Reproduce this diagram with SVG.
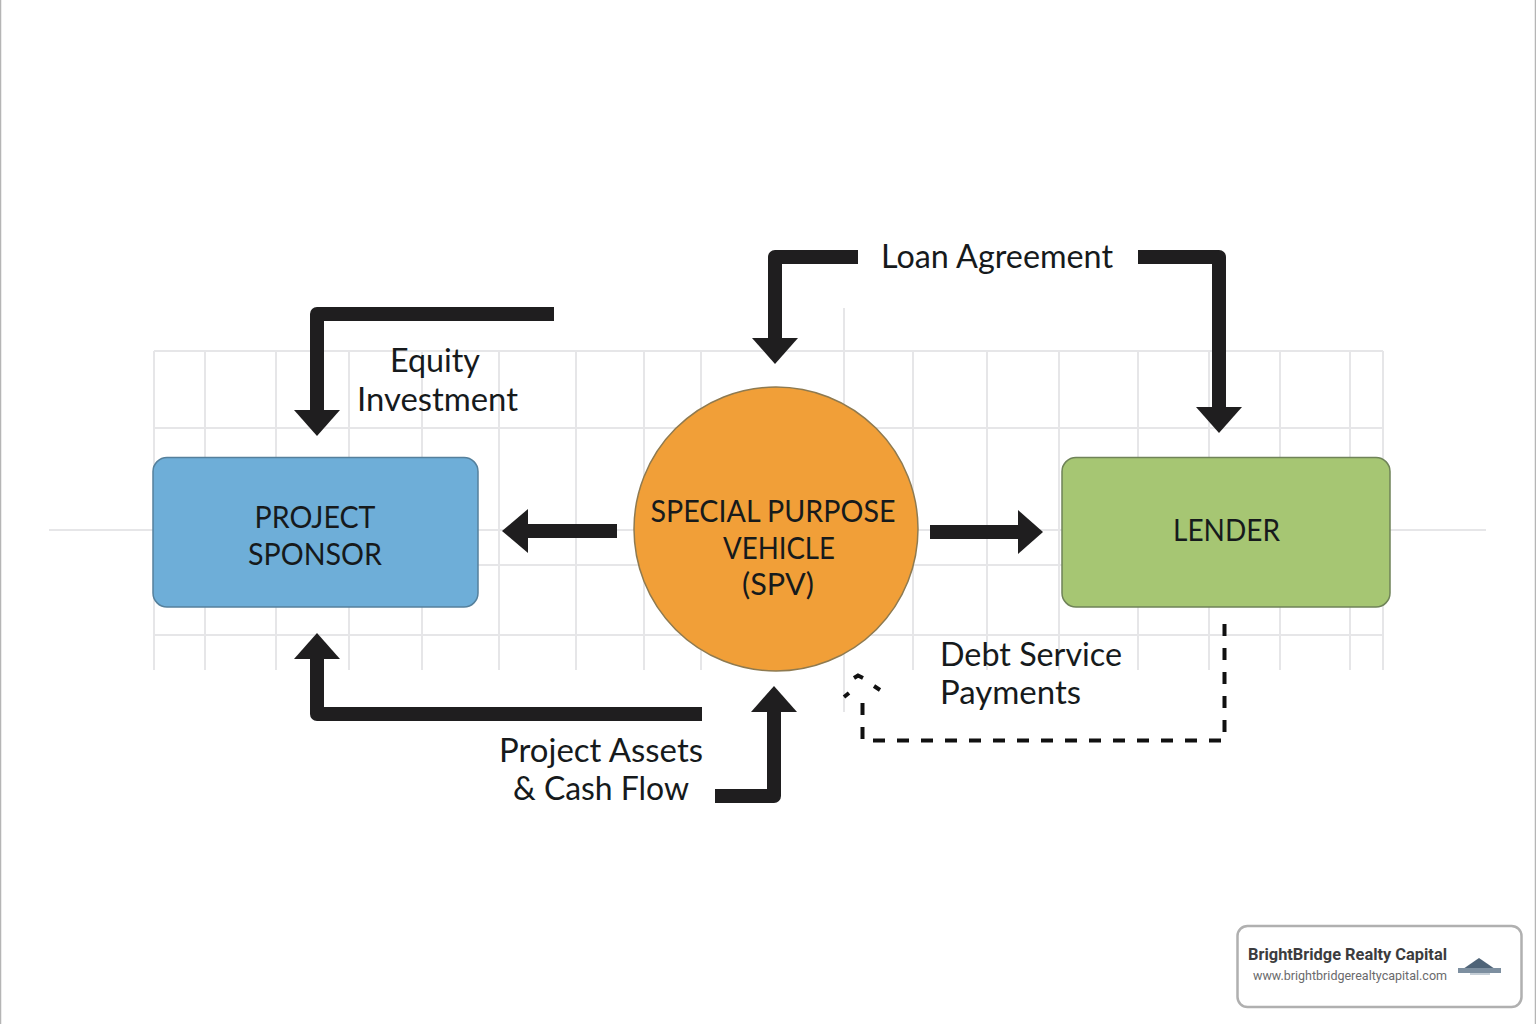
<svg xmlns="http://www.w3.org/2000/svg" width="1536" height="1024" viewBox="0 0 1536 1024">
<style>
.g{stroke:#e6e6e8;stroke-width:2;fill:none}
.c{fill:none;stroke:#1f1e1f;stroke-width:14;stroke-linejoin:round}
.h{fill:#1f1e1f}
.d{fill:none;stroke:#111;stroke-width:4}
text{font-family:Lato,"Noto Sans",sans-serif;fill:#161a1c;text-anchor:middle}
.l{font-size:32px}
.n{font-size:31px}
</style>
<rect width="1536" height="1024" fill="#fff"/>
<path d="M0.5 0V1024M1535.5 0V1024" stroke="#b5b5b5" stroke-width="1.5"/>
<g id="grid">
<path class="g" d="M154 351H1383M154 428H1383M154 565H1383M154 635H1383"/>
<path class="g" stroke-width="1.5" d="M49 530H1486"/>
<path class="g" d="M154 351V670M205 351V670M276 351V670M349 351V670M422 351V670M499 351V670M576 351V670M644 351V670M701 351V670M844 308V712M913 351V670M987 351V670M1059 351V670M1138 351V670M1209 351V670M1280 351V670M1350 351V670M1383 351V670"/>
</g>
<g id="connectors">
<path class="c" d="M554 314H317V412"/><path class="h" d="M294 410H340L317 436Z"/>
<path class="c" d="M858 257H775V340"/><path class="h" d="M752 338H798L775 364Z"/>
<path class="c" d="M1138 257H1219V408"/><path class="h" d="M1196 407H1242L1219 433Z"/>
<path class="c" d="M617 531H525"/><path class="h" d="M528 509V553L502 531Z"/>
<path class="c" d="M930 532H1020"/><path class="h" d="M1018 510V554L1043 532Z"/>
<path class="c" d="M702 714H317V657"/><path class="h" d="M294 659H340L317 633Z"/>
<path class="c" d="M715 796H774V710"/><path class="h" d="M751 712H797L774 686Z"/>
<path class="d" stroke-dasharray="12 12" d="M1224.500 624V740.500H862.500V692"/>
<path class="d" d="M854 678L858 675.500L863 678M874 686L880 690M849 693L844 697"/>
</g>
<g id="sponsor">
<rect x="153" y="457.500" width="325" height="149.500" rx="14" fill="#6eaed8" stroke="#55809c" stroke-width="1.500"/>
<text class="n" x="315" y="528" textLength="121" lengthAdjust="spacingAndGlyphs">PROJECT</text>
<text class="n" x="315" y="565" textLength="134" lengthAdjust="spacingAndGlyphs">SPONSOR</text>
</g>
<g id="spv">
<circle cx="776" cy="529" r="142" fill="#f19f38" stroke="#8e7a50" stroke-width="1.500"/>
<text class="n" x="773" y="522" textLength="245" lengthAdjust="spacingAndGlyphs">SPECIAL PURPOSE</text>
<text class="n" x="779" y="559" textLength="112" lengthAdjust="spacingAndGlyphs">VEHICLE</text>
<text class="n" x="778" y="595" textLength="72" lengthAdjust="spacingAndGlyphs">(SPV)</text>
</g>
<g id="lender">
<rect x="1062" y="457.500" width="328" height="149.500" rx="14" fill="#a6c673" stroke="#6f8358" stroke-width="1.500"/>
<text class="n" x="1226.500" y="541" textLength="107" lengthAdjust="spacingAndGlyphs">LENDER</text>
</g>
<g id="labels">
<text class="l" x="435" y="372" textLength="90" lengthAdjust="spacingAndGlyphs">Equity</text>
<text class="l" x="437.500" y="411" textLength="161" lengthAdjust="spacingAndGlyphs">Investment</text>
<text class="l" x="997" y="268" textLength="232" lengthAdjust="spacingAndGlyphs">Loan Agreement</text>
<text class="l" x="1031" y="666" textLength="182" lengthAdjust="spacingAndGlyphs">Debt Service</text>
<text class="l" x="1010.500" y="704" textLength="141" lengthAdjust="spacingAndGlyphs">Payments</text>
<text class="l" x="601" y="762" textLength="204" lengthAdjust="spacingAndGlyphs">Project Assets</text>
<text class="l" x="601" y="800" textLength="176" lengthAdjust="spacingAndGlyphs">&amp; Cash Flow</text>
</g>
<g id="badge">
<rect x="1237.500" y="926" width="284" height="81" rx="10" fill="#fff" stroke="#b0b0b0" stroke-width="2.500"/>
<text x="1347.500" y="960" textLength="199" lengthAdjust="spacingAndGlyphs" style="font-family:Roboto,sans-serif;font-size:16px;font-weight:700;fill:#3c3c3e">BrightBridge Realty Capital</text>
<text x="1350" y="980" textLength="194" lengthAdjust="spacingAndGlyphs" style="font-family:Roboto,sans-serif;font-size:13px;fill:#6a6a6c">www.brightbridgerealtycapital.com</text>
<path d="M1463 969L1479 958L1495 969Z" fill="#4f6478"/>
<rect x="1458" y="968" width="43" height="5" fill="#7d8fa0"/>
<rect x="1470" y="973" width="20" height="2" fill="#c5ced6"/>
</g>
</svg>
